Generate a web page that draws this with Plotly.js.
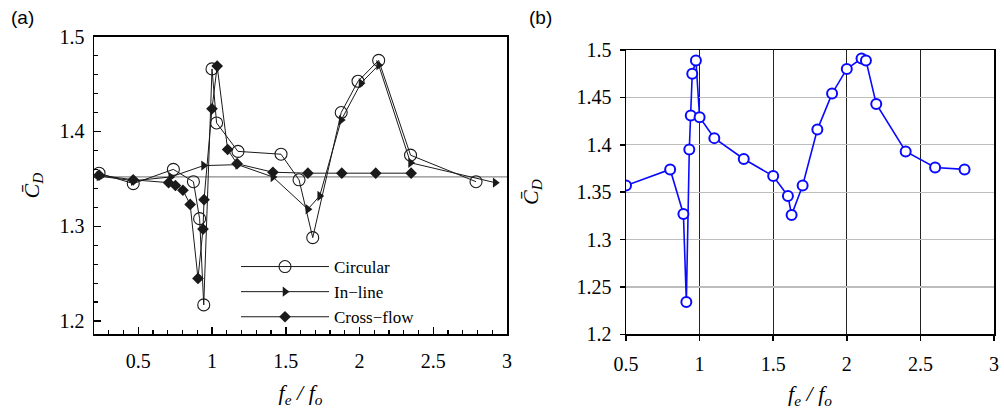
<!DOCTYPE html>
<html>
<head>
<meta charset="utf-8">
<script src="https://cdn.plot.ly/plotly-3.0.1.min.js"></script>
<style>html,body{margin:0;padding:0;background:#fff}#chart{width:1004px;height:409px}</style>
</head>
<body>
<div id="chart"></div>
<script>
// ---- Panel (a) data ----
const circX = [0.234, 0.466, 0.738, 0.874, 0.916, 0.944, 1.0, 1.031, 1.176, 1.468, 1.59, 1.683, 1.876, 1.99, 2.13, 2.346, 2.79];
const circY = [1.356, 1.345, 1.360, 1.347, 1.308, 1.217, 1.466, 1.409, 1.379, 1.376, 1.349, 1.288, 1.420, 1.453, 1.475, 1.375, 1.347];
const inlineX = [0.234, 0.466, 0.72, 0.943, 1.174, 1.413, 1.65, 1.73, 1.876, 2.01, 2.13, 2.346, 2.92];
const inlineY = [1.353, 1.348, 1.352, 1.364, 1.365, 1.352, 1.318, 1.332, 1.412, 1.451, 1.470, 1.367, 1.346];
const crossX = [0.234, 0.466, 0.706, 0.752, 0.803, 0.852, 0.905, 0.939, 0.946, 1.0, 1.035, 1.106, 1.17, 1.413, 1.65, 1.88, 2.11, 2.35];
const crossY = [1.354, 1.349, 1.346, 1.343, 1.338, 1.323, 1.245, 1.297, 1.328, 1.424, 1.469, 1.381, 1.366, 1.357, 1.356, 1.356, 1.356, 1.356];
const refLineX = [0.2, 3.0];
const refLineY = [1.352, 1.352];
const seriesNames = ["Circular", "In\u2212line", "Cross\u2212flow"];

// ---- Panel (b) data ----
const bX = [0.5, 0.8, 0.89, 0.91, 0.93, 0.94, 0.95, 0.975, 1.0, 1.1, 1.3, 1.5, 1.6, 1.625, 1.7, 1.8, 1.9, 2.0, 2.1, 2.13, 2.2, 2.4, 2.6, 2.8];
const bY = [1.357, 1.374, 1.327, 1.234, 1.395, 1.431, 1.475, 1.489, 1.429, 1.407, 1.385, 1.367, 1.346, 1.326, 1.357, 1.416, 1.454, 1.480, 1.491, 1.489, 1.443, 1.393, 1.376, 1.374];

const serif = "Liberation Serif, Times New Roman, serif";
const ink = "#1a1a1a";

const traces = [
  {x: refLineX, y: refLineY, xaxis: "x", yaxis: "y", mode: "lines", line: {color: "#8a8a8a", width: 1.2}, showlegend: false, hoverinfo: "skip"},
  {x: circX, y: circY, xaxis: "x", yaxis: "y", mode: "lines+markers", name: seriesNames[0],
   line: {color: ink, width: 1}, marker: {symbol: "circle-open", size: 12, color: ink, line: {width: 1.1}}},
  {x: inlineX, y: inlineY, xaxis: "x", yaxis: "y", mode: "lines+markers", name: seriesNames[1],
   line: {color: ink, width: 1}, marker: {symbol: "triangle-right", size: 9, color: ink}},
  {x: crossX, y: crossY, xaxis: "x", yaxis: "y", mode: "lines+markers", name: seriesNames[2],
   line: {color: ink, width: 1}, marker: {symbol: "diamond", size: 9, color: ink}},
  {x: bX, y: bY, xaxis: "x2", yaxis: "y2", mode: "lines+markers", showlegend: false,
   line: {color: "#0a0aff", width: 1.6}, marker: {symbol: "circle", size: 10, color: "#ffffff", line: {color: "#0a0aff", width: 2}}}
];

const W = 1004, H = 409;
const px = v => v / W, py = v => 1 - v / H;

const tf = () => ({family: serif, size: 20, color: "#000"});
const ttf = () => ({family: serif, size: 22, color: "#000"});
const ytitle = "<i>C\u0304</i><sub><i>D</i></sub>";
const xtitle = "<i>f</i><sub><i>e</i></sub><i> / f</i><sub><i>o</i></sub>";

const layout = {
  width: W, height: H,
  font: {family: serif, size: 20, color: "#000"},
  margin: {l: 0, r: 0, t: 0, b: 0},
  paper_bgcolor: "#fff", plot_bgcolor: "rgba(0,0,0,0)",
  showlegend: true,
  legend: {x: px(236), y: py(249), xanchor: "left", yanchor: "top", bgcolor: "rgba(0,0,0,0)",
           font: {family: serif, size: 17, color: "#000"}, itemwidth: 88, tracegroupgap: 0},
  xaxis: {domain: [px(94), px(507)], range: [0.2, 3.0], anchor: "y",
          showline: true, linecolor: "#000", linewidth: 1.5, mirror: true,
          showgrid: false, zeroline: false,
          tickmode: "linear", tick0: 0.5, dtick: 0.5, ticks: "inside", ticklen: 7, tickwidth: 1.5, tickcolor: "#000",
          minor: {dtick: 0.1, tick0: 0.2, ticks: "inside", ticklen: 4, tickwidth: 1.2, tickcolor: "#000", showgrid: false},
          tickfont: tf(), ticklabelstandoff: 8,
          title: {text: xtitle, font: ttf(), standoff: 14}},
  yaxis: {domain: [py(334.3), py(36.7)], range: [1.186, 1.5], anchor: "x",
          showline: true, linecolor: "#000", linewidth: 1.5, mirror: true,
          showgrid: false, zeroline: false,
          tickmode: "linear", tick0: 1.2, dtick: 0.1, ticks: "inside", ticklen: 7, tickwidth: 1.5, tickcolor: "#000",
          minor: {dtick: 0.02, tick0: 1.2, ticks: "inside", ticklen: 4, tickwidth: 1.2, tickcolor: "#000", showgrid: false},
          tickfont: tf(), tickformat: ".1f", ticklabelstandoff: 4,
          title: {text: ytitle, font: ttf(), standoff: 14}},
  xaxis2: {domain: [px(626), px(994)], range: [0.5, 3.0], anchor: "y2",
           showline: true, linecolor: "#000", linewidth: 1.5, mirror: true,
           showgrid: true, gridcolor: "#222", gridwidth: 1, zeroline: false,
           tickmode: "linear", tick0: 0.5, dtick: 0.5, ticks: "outside", ticklen: 5, tickwidth: 1.5, tickcolor: "#000",
           tickfont: tf(), ticklabelstandoff: 6,
           title: {text: xtitle, font: ttf(), standoff: 14}},
  yaxis2: {domain: [py(334.3), py(50)], range: [1.2, 1.5], anchor: "x2",
           showline: true, linecolor: "#000", linewidth: 1.5, mirror: true,
           showgrid: true, gridcolor: "#bdbdbd", gridwidth: 1.2, zeroline: false,
           tickmode: "linear", tick0: 1.2, dtick: 0.05, ticks: "outside", ticklen: 5, tickwidth: 1.5, tickcolor: "#000",
           tickfont: tf(), ticklabelstandoff: 4,
           title: {text: ytitle, font: ttf(), standoff: 32}},
  yaxis3: {overlaying: "y2", anchor: "x2", range: [1.2, 1.5], tickmode: "linear", tick0: 1.2, dtick: 0.1,
           showgrid: true, gridcolor: "#222", gridwidth: 1, zeroline: false,
           showticklabels: false, ticks: "", showline: false},
  annotations: [
    {text: "(a)", x: px(22), y: py(18), xref: "paper", yref: "paper", xanchor: "center", yanchor: "middle", showarrow: false,
     font: {family: "Liberation Sans, Arial, sans-serif", size: 19, color: "#000"}},
    {text: "(b)", x: px(540), y: py(18), xref: "paper", yref: "paper", xanchor: "center", yanchor: "middle", showarrow: false,
     font: {family: "Liberation Sans, Arial, sans-serif", size: 19, color: "#000"}}
  ]
};

Plotly.newPlot("chart", traces, layout, {displayModeBar: false, staticPlot: true});
</script>
</body>
</html>
